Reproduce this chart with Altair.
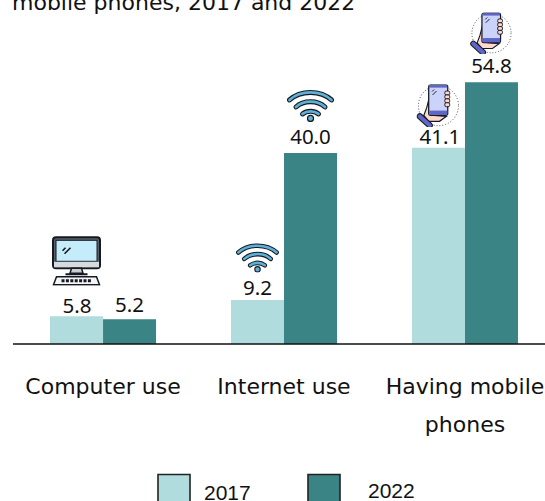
import base64
import altair as alt
import pandas as pd

categories = ["Computer use", "Internet use", "Having mobile phones"]
category_labels = ["Computer use", "Internet use", "Having mobile|phones"]
series = ["2017", "2022"]
values_2017 = [5.8, 9.2, 41.1]
values_2022 = [5.2, 40.0, 54.8]
colors = ["#B0DCDD", "#3A8486"]

DARK = "#151a22"
MONITOR = f'''<svg xmlns="http://www.w3.org/2000/svg" viewBox="0 0 50 50">
<rect x="1.5" y="1.5" width="47" height="31" rx="3" fill="#5a6068" stroke="{DARK}" stroke-width="2"/>
<rect x="4.5" y="4.5" width="41" height="21" fill="#c4ecfb" stroke="{DARK}" stroke-width="1"/>
<rect x="2.5" y="26" width="45" height="5.5" fill="#d6dbe0"/>
<path d="M13 18l6-6M11 15l3-3" stroke="{DARK}" stroke-width="1.6"/>
<path d="M20 32.5h10l1.5 5h-13z" fill="#c9ced3" stroke="{DARK}" stroke-width="1.5"/>
<path d="M14 38.5h22" stroke="{DARK}" stroke-width="2"/>
<path d="M5 41h40l3 8H2z" fill="#f3f5f7" stroke="{DARK}" stroke-width="1.5"/>
<path d="M10 45h30" stroke="{DARK}" stroke-width="3" stroke-dasharray="3 1.4"/>
</svg>'''

WIFI = f'''<svg xmlns="http://www.w3.org/2000/svg" viewBox="0 0 48 34" fill="none" stroke-linecap="round">
<g stroke="{DARK}" stroke-width="5">
<path d="M3 12C14 2 34 2 45 12"/><path d="M9.5 19C17 12 31 12 38.5 19"/><path d="M16 26c4.500-3.500 11.500-3.500 16 0"/></g>
<g stroke="#5fb0d6" stroke-width="2.800">
<path d="M3 12C14 2 34 2 45 12"/><path d="M9.500 19C17 12 31 12 38.500 19"/><path d="M16 26c4.500-3.500 11.500-3.500 16 0"/></g>
<circle cx="24" cy="30.500" r="3" fill="#5fb0d6" stroke="{DARK}" stroke-width="1.200"/>
</svg>'''

PHONE = f'''<svg xmlns="http://www.w3.org/2000/svg" viewBox="0 0 44 44">
<circle cx="22" cy="22" r="20.500" fill="none" stroke="#444" stroke-width="1" stroke-dasharray="1 2"/>
<path d="M10 24l3-12 5 4v16l12 1-7 5H12L7 32z" fill="#ffd9cc" stroke="{DARK}" stroke-width="1.200"/>
<rect x="12" y="0.800" width="19.500" height="31" rx="2" fill="#ccd3fb" stroke="{DARK}" stroke-width="1.300"/>
<rect x="12.500" y="1" width="18.500" height="2.500" fill="#6066c8"/>
<rect x="12.500" y="27" width="18.500" height="4.500" fill="#6066c8"/>
<path d="M16 11l4-4M15.500 7.500l2-2" stroke="{DARK}" stroke-width="1"/>
<g fill="#ffd9cc" stroke="{DARK}" stroke-width="1"><rect x="28.500" y="7" width="5" height="4" rx="1.500"/><rect x="28.500" y="11" width="5" height="4" rx="1.500"/><rect x="28.500" y="15" width="5" height="4" rx="1.500"/><rect x="28.500" y="19" width="5" height="4" rx="1.500"/></g>
<path d="M3 33l10 9" stroke="{DARK}" stroke-width="6.500" stroke-linecap="round"/>
<path d="M3 33l10 9" stroke="#6066c8" stroke-width="4.300" stroke-linecap="round"/>
</svg>'''


def uri(svg):
    return "data:image/svg+xml;base64," + base64.b64encode(svg.encode()).decode()


rows = []
for c, a, b in zip(categories, values_2017, values_2022):
    rows.append({"category": c, "series": "2017", "value": a})
    rows.append({"category": c, "series": "2022", "value": b})
df = pd.DataFrame(rows)

x = alt.X(
    "category:N",
    sort=categories,
    scale=alt.Scale(range=[42, 510], paddingInner=0.414, paddingOuter=0),
    axis=None,
)
xo = alt.XOffset("series:N", sort=series, scale=alt.Scale(paddingInner=0, paddingOuter=0))
y_scale = alt.Scale(domain=[0, 70.35], nice=False, range=[336, 0])
y = alt.Y("value:Q", scale=y_scale, axis=None)

bars = alt.Chart(df).mark_bar(size=53).encode(
    x=x, xOffset=xo, y=y,
    color=alt.Color("series:N", scale=alt.Scale(domain=series, range=colors), legend=None),
)

base_rule = alt.Chart(pd.DataFrame({"v": [0]})).mark_rule(color="#111111", strokeWidth=1.6).encode(
    x=alt.value(5), x2=alt.value(537), y=alt.Y("v:Q", scale=y_scale, axis=None)
)

cat_df = pd.DataFrame({"category": categories, "label": category_labels})
cat_text = alt.Chart(cat_df).mark_text(
    font="DejaVu Sans", fontSize=22, color="#111111", baseline="alphabetic",
    lineBreak="|", lineHeight=38,
).encode(x=x, y=alt.value(386), text="label:N")

# value, series, category, gap above bar, x shift
label_rows = [
    (5.8, "2017", categories[0], 3.5, 0.5),
    (5.2, "2022", categories[0], 7.5, 0),
    (9.2, "2017", categories[1], 5, 0),
    (40.0, "2022", categories[1], 9, 0),
    (41.1, "2017", categories[2], 4, 1.5),
    (54.8, "2022", categories[2], 9.5, 0),
]
layers = [bars, base_rule, cat_text]
for v, s, c, gap, dx in label_rows:
    d = pd.DataFrame({"category": [c], "series": [s], "value": [v], "label": [f"{v:.1f}"]})
    layers.append(
        alt.Chart(d).mark_text(
            font="Noto Sans", fontSize=20.5, color="#111111", baseline="alphabetic",
            dy=-gap, dx=dx,
        ).encode(x=x, xOffset=xo, y=y, text="label:N")
    )

# icon, size, value, series, category, shift x, shift y of the centre
icon_rows = [
    (MONITOR, 50, 50, 5.8, "2017", categories[0], 21, -55.5),
    (WIFI, 48, 31, 9.2, "2017", categories[1], -2, -43),
    (WIFI, 48, 34, 40.0, "2022", categories[1], 0, -48),
    (PHONE, 44, 43, 41.1, "2017", categories[2], 1.5, -42),
    (PHONE, 45, 42, 54.8, "2022", categories[2], 6, -49),
]
for svg, w, h, v, s, c, dx, dy in icon_rows:
    d = pd.DataFrame({"category": [c], "series": [s], "value": [v], "icon": [uri(svg)]})
    layers.append(
        alt.Chart(d).mark_image(width=w, height=h, xOffset=dx, yOffset=dy, align="center", baseline="middle")
        .encode(x=x, xOffset=xo, y=y, url="icon:N")
    )

# Title, clipped by the top of the picture as in the reference
title_df = pd.DataFrame({"t": ["mobile phones, 2017 and 2022"]})
layers.append(
    alt.Chart(title_df).mark_text(
        font="DejaVu Sans", fontSize=22, color="#111111", align="left", baseline="alphabetic"
    ).encode(x=alt.value(4), y=alt.value(2), text="t:N")
)

# Hand-placed legend
legend_series = series
legend_x = [150, 300]
legend_text_x = [196, 360]
legend_text_y = [492, 490]
for s, col, lx, tx, ty in zip(legend_series, colors, legend_x, legend_text_x, legend_text_y):
    d = pd.DataFrame({"s": [s]})
    layers.append(
        alt.Chart(d).mark_rect(fill=col, stroke="#222222", strokeWidth=1.6).encode(
            x=alt.value(lx), x2=alt.value(lx + 32), y=alt.value(466.5), y2=alt.value(510)
        )
    )
    layers.append(
        alt.Chart(d).mark_text(
            font="Liberation Sans", fontSize=21, color="#111111", align="left", baseline="alphabetic"
        ).encode(x=alt.value(tx), y=alt.value(ty), text="s:N")
    )

chart = (
    alt.layer(*layers)
    .properties(
        width=537, height=493,
        autosize=alt.AutoSizeParams(type="none"),
        padding={"left": 8, "top": 8, "right": 0, "bottom": 0},
    )
    .configure_view(stroke=None)
)
chart.save("out.html", embed_options={
    "renderer": "svg",
    "actions": False,
    "defaultStyle": "html,body{margin:0;overflow:hidden} svg{display:block}",
})
